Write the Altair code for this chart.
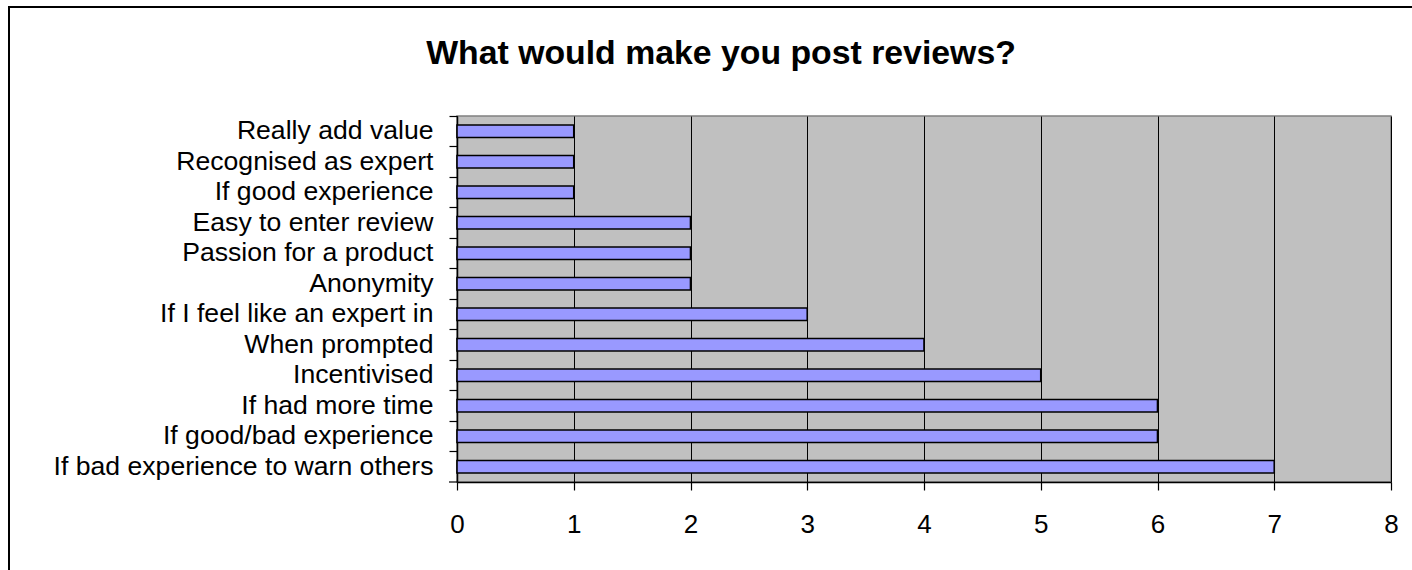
import altair as alt
import pandas as pd

categories = [
    "Really add value\u00a0",
    "Recognised as expert",
    "If good experience",
    "Easy to enter review",
    "Passion for a product",
    "Anonymity",
    "If I feel like an expert in",
    "When prompted",
    "Incentivised",
    "If had more time",
    "If good/bad experience",
    "If bad experience to warn others",
]
values = [1, 1, 1, 2, 2, 2, 3, 4, 5, 6, 6, 7]
x_ticks = [0, 1, 2, 3, 4, 5, 6, 7, 8]
title_text = "What would make you post reviews?"

FONT = "Liberation Sans"
W, H = 934, 366
PAD = {"left": 457, "top": 116, "right": 21, "bottom": 88}

df = pd.DataFrame({"label": categories, "value": values})

bars = alt.Chart(df).mark_bar(
    size=12.5, color="#9999FF", stroke="#000000", strokeWidth=1.6
).encode(
    x=alt.X(
        "value:Q",
        scale=alt.Scale(domain=[0, 8], nice=False, zero=True),
        axis=alt.Axis(
            values=x_ticks, title=None, grid=True, gridColor="#000000",
            gridOpacity=1, gridWidth=1, domainColor="#000000", domainWidth=1.5,
            tickColor="#000000", tickSize=8, tickWidth=1.2,
            labelFont=FONT, labelFontSize=26, labelColor="#000000",
            labelPadding=21, labelFlush=False, format="d",
        ),
    ),
    y=alt.Y(
        "label:N",
        sort=categories,
        scale=alt.Scale(paddingInner=0, paddingOuter=0),
        axis=alt.Axis(
            title=None, bandPosition=0, domainColor="#000000", domainWidth=1.5,
            tickColor="#000000", tickSize=8, tickWidth=1.2,
            labelFont=FONT, labelFontSize=26.6, labelColor="#000000",
            labelPadding=16, labelLimit=0,
        ),
    ),
)

one = alt.Data(values=[{"k": 1}])

bottom_tick = alt.Chart(one).mark_rule(color="#000000", strokeWidth=1.2).encode(
    x=alt.value(-8), x2=alt.value(0), y=alt.value(H), y2=alt.value(H)
)

frame_top = alt.Chart(one).mark_rule(color="#000000", strokeWidth=2).encode(
    x=alt.value(-449), x2=alt.value(W + 21), y=alt.value(-109), y2=alt.value(-109)
)
frame_left = alt.Chart(one).mark_rule(color="#000000", strokeWidth=2).encode(
    x=alt.value(-448), x2=alt.value(-448), y=alt.value(-110), y2=alt.value(H + 88)
)

title = alt.Chart(one).mark_text(
    text=title_text, font=FONT, fontSize=33.8, fontWeight="bold",
    color="#000000", align="center", baseline="alphabetic",
).encode(
    x=alt.value(W / 2 - 203), y=alt.value(-52)
)

chart = alt.layer(bars, bottom_tick, frame_top, frame_left, title).properties(
    width=W,
    height=H,
    padding=PAD,
    autosize=alt.AutoSizeParams(type="none"),
    background="#FFFFFF",
).configure_view(
    fill="#C0C0C0", stroke="#808080", strokeWidth=1.5
)

chart.save("out.html", embed_options={"renderer": "svg", "actions": False})
